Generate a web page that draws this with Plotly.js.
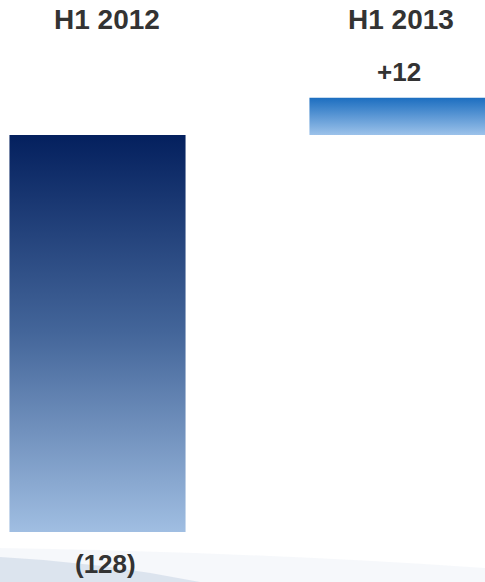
<!DOCTYPE html>
<html>
<head>
<meta charset="utf-8">
<script src="https://cdn.plot.ly/plotly-3.0.1.min.js"></script>
<style>html,body{margin:0;padding:0;background:#fff;}#chart{width:485px;height:582px;}</style>
</head>
<body>
<div id="chart"></div>
<script>
// ---- data ----
var categories = ["H1 2012", "H1 2013"];
var values = [-128, 12];
var valueLabels = ["(128)", "+12"];

// ---- styles ----
var W = 485, H = 582;
var gradients = [
  [["0%", "#04205e"], ["50%", "#44669a"], ["100%", "#a0bee2"]],
  [["0%", "#1c6ec0"], ["100%", "#9cc2ea"]]
];
var titleShift = [9, 4];
var labelShift = [8, 2];
function px2x(p){ return p / W; }
function px2y(p){ return 1 - p / H; }

var annotations = [];
categories.forEach(function(c, i){
  annotations.push({
    x: i, xref: 'x', y: px2y(20), yref: 'paper', text: '<b>' + c + '</b>',
    showarrow: false, xshift: titleShift[i], yanchor: 'middle',
    font: {family: 'Liberation Sans, Arial, sans-serif', size: 28, color: '#333333'}
  });
  var isNeg = values[i] < 0;
  annotations.push({
    x: i, xref: 'x', y: isNeg ? px2y(564) : px2y(72), yref: 'paper',
    text: '<b>' + valueLabels[i] + '</b>', showarrow: false, xshift: labelShift[i], yanchor: 'middle',
    font: {family: 'Liberation Sans, Arial, sans-serif', size: 26, color: '#333333'}
  });
});

var swoosh = 'M ' + px2x(0) + ',' + px2y(557) +
  ' Q ' + px2x(100) + ',' + px2y(562) + ' ' + px2x(200) + ',' + px2y(582) +
  ' L ' + px2x(0) + ',' + px2y(582) + ' Z';
var swoosh2 = 'M ' + px2x(0) + ',' + px2y(548) +
  ' Q ' + px2x(250) + ',' + px2y(552) + ' ' + px2x(485) + ',' + px2y(568) +
  ' L ' + px2x(485) + ',' + px2y(582) + ' L ' + px2x(0) + ',' + px2y(582) + ' Z';

var trace = {
  type: 'bar',
  x: categories.map(function(c, i){ return i; }),
  y: values,
  width: 0.587,
  marker: {color: ['#44669a', '#4a90d8'], line: {width: 0}},
  hoverinfo: 'none'
};

var layout = {
  width: W, height: H,
  margin: {l: 0, r: 0, t: 0, b: 0},
  paper_bgcolor: '#ffffff', plot_bgcolor: 'rgba(0,0,0,0)',
  showlegend: false,
  xaxis: {range: [-0.325, 1.2917], visible: false, fixedrange: true},
  yaxis: {range: [-144.1, 43.53], visible: false, fixedrange: true},
  annotations: annotations,
  shapes: [
    {type: 'path', xref: 'paper', yref: 'paper', path: swoosh2, layer: 'below',
     fillcolor: 'rgba(240,244,249,0.6)', line: {width: 0}},
    {type: 'path', xref: 'paper', yref: 'paper', path: swoosh, layer: 'below',
     fillcolor: 'rgba(214,223,235,0.8)', line: {width: 0}}
  ]
};

Plotly.newPlot('chart', [trace], layout, {displayModeBar: false, staticPlot: true}).then(function(gd){
  var NS = 'http://www.w3.org/2000/svg';
  var svg = gd.querySelector('svg.main-svg');
  var defs = svg.querySelector('defs') || svg.insertBefore(document.createElementNS(NS, 'defs'), svg.firstChild);
  gradients.forEach(function(stops, i){
    var lg = document.createElementNS(NS, 'linearGradient');
    lg.setAttribute('id', 'bargrad' + i);
    lg.setAttribute('x1', '0'); lg.setAttribute('y1', '0');
    lg.setAttribute('x2', '0'); lg.setAttribute('y2', '1');
    stops.forEach(function(s){
      var st = document.createElementNS(NS, 'stop');
      st.setAttribute('offset', s[0]);
      st.setAttribute('stop-color', s[1]);
      lg.appendChild(st);
    });
    defs.appendChild(lg);
  });
  var paths = gd.querySelectorAll('.trace.bars .point path');
  paths.forEach(function(p, i){
    p.style.fill = 'url(#bargrad' + i + ')';
  });
});
</script>
</body>
</html>
